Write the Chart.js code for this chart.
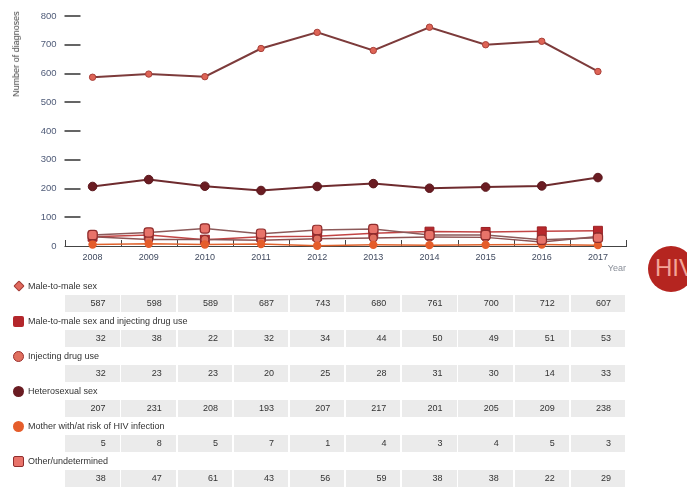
<!DOCTYPE html>
<html>
<head>
<meta charset="utf-8">
<script src="https://cdn.jsdelivr.net/npm/chart.js@4/dist/chart.umd.min.js"></script>
<style>
  html, body { margin:0; padding:0; background:#fff; }
  body { width:687px; height:489px; position:relative; overflow:hidden; font-family:"Liberation Sans", Arial, sans-serif; }
  #wrap { position:absolute; left:0; top:0; width:687px; height:280px; }
  #ytitle { position:absolute; left:16px; top:54px; transform:translate(-50%,-50%) rotate(-90deg); white-space:nowrap; font-size:9px; color:#444; }
  #hiv { position:absolute; left:648px; top:246px; width:46px; height:46px; border-radius:50%; background:#b52520; color:#f3a497; font-size:24px; line-height:44px; padding-left:7px; box-sizing:border-box; overflow:hidden; white-space:nowrap; }
  #table { position:absolute; left:0; top:277px; width:687px; }
  .leg { position:relative; height:18px; }
  .leg .lbl { position:absolute; left:28px; top:0; line-height:18px; font-size:9px; color:#333; white-space:nowrap; }
  .mk { position:absolute; box-sizing:border-box; }
  .row { position:relative; height:17px; }
  .cell { position:absolute; top:0; height:17px; background:#ebebeb; text-align:right; box-sizing:border-box; padding-right:14px; line-height:17px; font-size:9px; color:#333; }
</style>
</head>
<body>
<div id="wrap"><canvas id="c"></canvas></div>
<div id="ytitle">Number of diagnoses</div>
<div id="hiv">HIV</div>
<div id="table"></div>
<script>
const years = ['2008','2009','2010','2011','2012','2013','2014','2015','2016','2017'];
const yTicks = [0,100,200,300,400,500,600,700,800];
const maleToMale = [587,598,589,687,743,680,761,700,712,607];
const msmIdu = [32,38,22,32,34,44,50,49,51,53];
const idu = [32,23,23,20,25,28,31,30,14,33];
const hetero = [207,231,208,193,207,217,201,205,209,238];
const mother = [5,8,5,7,1,4,3,4,5,3];
const other = [38,47,61,43,56,59,38,38,22,29];
const seriesNames = ['Male-to-male sex','Male-to-male sex and injecting drug use','Injecting drug use','Heterosexual sex','Mother with/at risk of HIV infection','Other/undetermined'];

const series = [
  {name:seriesNames[0], data:maleToMale, line:'#7d3b3b', lw:2, ps:'circle', r:3.2, fill:'#de6456', border:'#a8413a', bw:1,
   mk:{w:8,h:8,bg:'#e06a5e',bd:'1px solid #a33c36',rad:'1px',rot:45,l:14.5,t:5}},
  {name:seriesNames[1], data:msmIdu, line:'#c24444', lw:1.5, ps:'rect', r:6.3, fill:'#b8282c', border:'#9a2024', bw:1,
   mk:{w:11,h:11,bg:'#b3262b',bd:'none',rad:'2px',rot:0,l:13,t:3.5}},
  {name:seriesNames[2], data:idu, line:'#8d5252', lw:1.5, ps:'circle', r:4, fill:'#e0705f', border:'#8f2c2c', bw:1.2,
   mk:{w:11,h:11,bg:'#e0705f',bd:'1.5px solid #9a2f2f',rad:'50%',rot:0,l:13,t:3.5}},
  {name:seriesNames[3], data:hetero, line:'#6e2b2e', lw:2, ps:'circle', r:4.3, fill:'#6a1c22', border:'#5a161b', bw:1,
   mk:{w:11,h:11,bg:'#6a1c22',bd:'none',rad:'50%',rot:0,l:13,t:3.5}},
  {name:seriesNames[4], data:mother, line:'#e0632d', lw:1.5, ps:'circle', r:4.2, fill:'#e55d2b', border:'#e55d2b', bw:0,
   mk:{w:11,h:11,bg:'#e55d2b',bd:'none',rad:'50%',rot:0,l:13,t:3.5}},
  {name:seriesNames[5], data:other, line:'#8c5a5a', lw:1.5, ps:'rectRounded', r:5.4, fill:'#e8736a', border:'#8f2d2d', bw:1.2,
   mk:{w:11,h:11,bg:'#e8736a',bd:'1.5px solid #8f2d2d',rad:'2px',rot:0,l:13,t:3.5}}
];

const deco = {
  id:'deco',
  beforeDatasetsDraw(chart){
    const {ctx, chartArea:{left,right,bottom}, scales:{x,y}} = chart;
    ctx.save();
    ctx.strokeStyle = '#444';
    ctx.lineWidth = 1;
    ctx.beginPath();
    ctx.moveTo(left, Math.round(bottom)+0.5);
    ctx.lineTo(right, Math.round(bottom)+0.5);
    const band = x.getPixelForValue(1) - x.getPixelForValue(0);
    for (let i=0;i<=years.length;i++){
      const px = Math.round(x.getPixelForValue(0) + (i-0.5)*band)+0.5;
      ctx.moveTo(px, Math.round(bottom)+1);
      ctx.lineTo(px, Math.round(bottom)-6);
    }
    ctx.stroke();
    ctx.strokeStyle = '#333';
    ctx.lineWidth = 1.3;
    ctx.beginPath();
    yTicks.forEach(v=>{
      if (v<=0) return;
      const py = Math.round(y.getPixelForValue(v));
      ctx.moveTo(left, py);
      ctx.lineTo(left+16, py);
    });
    ctx.stroke();
    ctx.restore();
  }
};

const chart = new Chart(document.getElementById('c'), {
  type:'line',
  data:{
    labels:years,
    datasets:series.map(s=>({
      label:s.name, data:s.data, borderColor:s.line, borderWidth:s.lw,
      pointStyle:s.ps, pointRadius:s.r, pointBackgroundColor:s.fill,
      pointBorderColor:s.border, pointBorderWidth:s.bw, tension:0, fill:false, clip:false
    })).reverse()
  },
  options:{
    responsive:true, maintainAspectRatio:false, animation:false, devicePixelRatio:1,
    layout:{padding:{left:0,right:61,top:16,bottom:0}},
    plugins:{legend:{display:false}, tooltip:{enabled:false}},
    scales:{
      x:{
        offset:true,
        grid:{display:false, drawTicks:false},
        border:{display:false},
        ticks:{color:'#414b60', font:{family:'Liberation Sans', size:9}, padding:6, maxRotation:0},
        title:{display:true, text:'Year', align:'end', color:'#8a8f99', font:{family:'Liberation Sans', size:9}, padding:{top:0,bottom:6}},
        afterFit(s){ s.height = 34; }
      },
      y:{
        min:0, max:800,
        afterBuildTicks(s){ s.ticks = yTicks.map(v=>({value:v})); },
        grid:{display:false, drawTicks:false},
        border:{display:false},
        ticks:{color:'#4f5b78', font:{family:'Liberation Sans', size:9.5}, padding:8},
        afterFit(s){ s.width = 64.5; }
      }
    }
  },
  plugins:[deco]
});

// build table from the same arrays, aligned to the x scale bands
const xs = chart.scales.x;
const band = xs.getPixelForValue(1) - xs.getPixelForValue(0);
const table = document.getElementById('table');
series.forEach(s=>{
  const leg = document.createElement('div'); leg.className='leg';
  const mk = document.createElement('div'); mk.className='mk';
  Object.assign(mk.style,{left:s.mk.l+'px', top:s.mk.t+'px', width:s.mk.w+'px', height:s.mk.h+'px', background:s.mk.bg, border:s.mk.bd, borderRadius:s.mk.rad, transform:'rotate('+s.mk.rot+'deg)'});
  leg.appendChild(mk);
  const lbl = document.createElement('div'); lbl.className='lbl'; lbl.textContent=s.name;
  leg.appendChild(lbl);
  table.appendChild(leg);
  const row = document.createElement('div'); row.className='row';
  s.data.forEach((v,i)=>{
    const c = document.createElement('div'); c.className='cell';
    const l = xs.getPixelForValue(i) - band/2 + 0.8;
    c.style.left = l+'px'; c.style.width = (band-1.8)+'px';
    c.textContent = v;
    row.appendChild(c);
  });
  table.appendChild(row);
});
</script>
</body>
</html>
